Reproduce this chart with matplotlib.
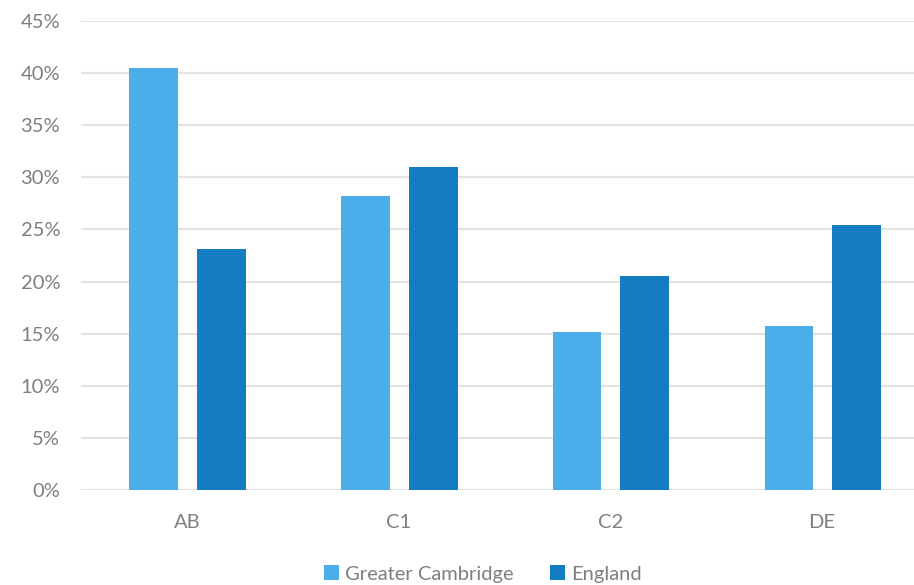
import matplotlib
matplotlib.use('Agg')
import matplotlib.pyplot as plt
import numpy as np
from matplotlib.ticker import PercentFormatter

# values (percent)
categories = ['AB', 'C1', 'C2', 'DE']
cambridge = [40.5, 28.2, 15.2, 15.7]
england = [23.1, 31.0, 20.5, 25.4]
yticks = [0, 5, 10, 15, 20, 25, 30, 35, 40, 45]

plt.rcParams['font.family'] = ['Lato', 'DejaVu Sans']
textColor = '#7f7f7f'

fig = plt.figure(figsize=(9.14, 5.85), dpi=100)
ax = fig.add_axes([81/914, 1 - 490/585, (928 - 81)/914, (490 - 21)/585])

x = np.arange(len(categories))
ax.bar(x - 0.157, cambridge, width=0.228, color='#4baeeb', label='Greater Cambridge', zorder=3)
ax.bar(x + 0.163, england, width=0.232, color='#147dc2', label='England', zorder=3)

ax.set_xlim(-0.5, 3.5)
ax.set_ylim(0, 45)
ax.set_yticks(yticks)
ax.yaxis.set_major_formatter(PercentFormatter(decimals=0))
ax.set_xticks(x)
ax.set_xticklabels(categories)

#light horizontal grid only, no frame
ax.grid(axis='y', color='#e3e3e3', linewidth=1.5, zorder=0)
for s in ax.spines.values():
    s.set_visible(False)
ax.tick_params(axis='both', length=0, labelsize=14.5, colors=textColor)
ax.tick_params(axis='y', pad=15)
ax.tick_params(axis='x', pad=17)

ax.legend(loc='center', bbox_to_anchor=(483/914, 1 - 574/585), bbox_transform=fig.transFigure,
          ncol=2, frameon=False, fontsize=14.5, labelcolor=textColor, handlelength=0.75,
          handleheight=0.75, handletextpad=0.3, columnspacing=1.8)

plt.savefig('out.png', dpi=100)
